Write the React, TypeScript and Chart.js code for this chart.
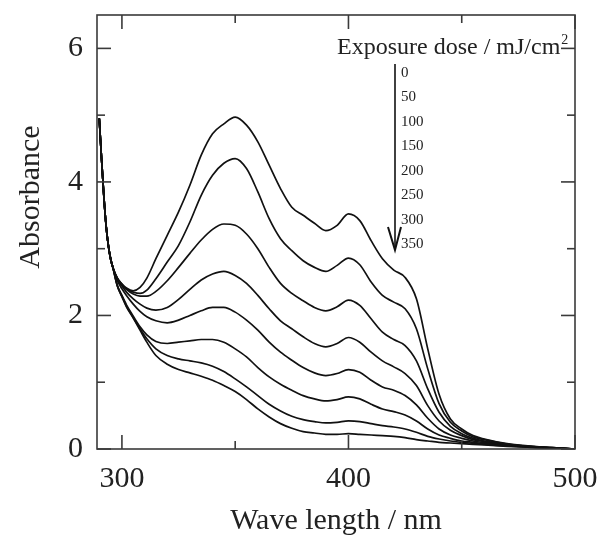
import React, { useEffect, useRef } from "react";
import { Chart, registerables } from "chart.js";
Chart.register(...registerables);

const WAVELENGTHS = [290, 291, 292, 293, 294, 295, 296, 298, 300, 302, 305, 308, 311, 315, 320, 325, 330, 335, 340, 345, 350, 355, 360, 365, 370, 375, 380, 385, 390, 395, 400, 405, 410, 415, 420, 425, 430, 435, 440, 445, 450, 455, 460, 470, 480, 490, 500];

const HEAD = [4.95, 4.35, 3.8, 3.35, 3.05, 2.85, 2.72];

const DOSE_0 = [...HEAD, 2.56, 2.47, 2.41, 2.37, 2.42, 2.56, 2.85, 3.2, 3.55, 3.95, 4.4, 4.72, 4.87, 4.97, 4.85, 4.6, 4.25, 3.9, 3.62, 3.5, 3.38, 3.27, 3.35, 3.52, 3.42, 3.12, 2.85, 2.68, 2.57, 2.25, 1.5, 0.82, 0.45, 0.3, 0.2, 0.15, 0.08, 0.045, 0.02, 0.0];
const DOSE_50 = [...HEAD, 2.56, 2.47, 2.4, 2.35, 2.33, 2.38, 2.55, 2.8, 3.05, 3.4, 3.8, 4.1, 4.28, 4.35, 4.2, 3.85, 3.45, 3.15, 2.97, 2.82, 2.72, 2.66, 2.75, 2.86, 2.76, 2.5, 2.3, 2.2, 2.1, 1.8, 1.2, 0.68, 0.4, 0.27, 0.18, 0.14, 0.075, 0.04, 0.02, 0.0];
const DOSE_100 = [...HEAD, 2.55, 2.46, 2.39, 2.32, 2.29, 2.29, 2.36, 2.52, 2.72, 2.93, 3.13, 3.29, 3.37, 3.35, 3.22, 3.0, 2.72, 2.48, 2.33, 2.22, 2.12, 2.07, 2.13, 2.23, 2.15, 1.95, 1.75, 1.64, 1.55, 1.32, 0.9, 0.55, 0.34, 0.23, 0.16, 0.12, 0.07, 0.04, 0.02, 0.0];
const DOSE_150 = [...HEAD, 2.54, 2.44, 2.35, 2.25, 2.17, 2.11, 2.08, 2.12, 2.24, 2.39, 2.53, 2.62, 2.66, 2.6, 2.48, 2.3, 2.1, 1.92, 1.8, 1.68, 1.58, 1.53, 1.58, 1.67, 1.6, 1.45, 1.32, 1.23, 1.13, 0.95, 0.65, 0.42, 0.28, 0.2, 0.14, 0.11, 0.065, 0.035, 0.018, 0.0];
const DOSE_200 = [...HEAD, 2.52, 2.4, 2.3, 2.17, 2.06, 1.98, 1.92, 1.89, 1.93, 2.0, 2.07, 2.12, 2.12, 2.05, 1.93, 1.78, 1.6, 1.45, 1.33, 1.22, 1.14, 1.1, 1.13, 1.19, 1.15, 1.03, 0.93, 0.88, 0.8, 0.66, 0.46, 0.3, 0.21, 0.16, 0.12, 0.095, 0.06, 0.033, 0.016, 0.0];
const DOSE_250 = [...HEAD, 2.45, 2.3, 2.16, 1.99, 1.83, 1.71, 1.61, 1.58, 1.6, 1.62, 1.64, 1.64, 1.6, 1.5, 1.38, 1.22, 1.08, 0.97, 0.88, 0.8, 0.75, 0.72, 0.74, 0.78, 0.75, 0.67, 0.6, 0.56, 0.51, 0.42, 0.3, 0.21, 0.16, 0.12, 0.1, 0.08, 0.05, 0.03, 0.015, 0.0];
const DOSE_300 = [...HEAD, 2.44, 2.29, 2.14, 1.97, 1.8, 1.65, 1.5, 1.4, 1.35, 1.32, 1.29, 1.24, 1.16, 1.05, 0.93, 0.8, 0.67, 0.57, 0.49, 0.44, 0.41, 0.39, 0.4, 0.42, 0.41, 0.38, 0.35, 0.33, 0.3, 0.25, 0.19, 0.15, 0.12, 0.1, 0.085, 0.07, 0.045, 0.027, 0.013, 0.0];
const DOSE_350 = [...HEAD, 2.44, 2.28, 2.13, 1.96, 1.78, 1.6, 1.4, 1.27, 1.19, 1.14, 1.09, 1.03, 0.95, 0.86, 0.74, 0.6, 0.48, 0.38, 0.31, 0.26, 0.24, 0.22, 0.22, 0.23, 0.22, 0.21, 0.2, 0.19, 0.17, 0.14, 0.12, 0.1, 0.09, 0.08, 0.07, 0.06, 0.04, 0.025, 0.012, 0.0];

const DOSE_LABELS = ["0", "50", "100", "150", "200", "250", "300", "350"];
const X_MAJOR = [300, 400, 500];
const X_MINOR = [350, 450];
const Y_MAJOR = [0, 2, 4, 6];
const Y_MINOR = [1, 3, 5];
const X_TITLE = "Wave length / nm";
const Y_TITLE = "Absorbance";
const LEGEND_TITLE = "Exposure dose / mJ/cm";
const LEGEND_SUP = "2";

const SERIF = "'Liberation Serif', 'Times New Roman', Times, serif";
const INK = "#222";
const FRAME = "#3a3a3a";

export default function App() {
  const ref = useRef<HTMLCanvasElement | null>(null);

  useEffect(() => {
    const series = [DOSE_0, DOSE_50, DOSE_100, DOSE_150, DOSE_200, DOSE_250, DOSE_300, DOSE_350];
    const datasets = series.map((s, i) => ({
      label: DOSE_LABELS[i],
      data: WAVELENGTHS.map((w, j) => ({ x: w, y: s[j] })),
      borderColor: "#111",
      borderWidth: 1.7,
      pointRadius: 0,
      fill: false,
      cubicInterpolationMode: "monotone" as const,
    }));

    const decor = {
      id: "decor",
      afterDraw(chart: any) {
        const ctx = chart.ctx as CanvasRenderingContext2D;
        const { left, right, top, bottom } = chart.chartArea;
        const xs = chart.scales.x;
        const ys = chart.scales.y;
        ctx.save();
        ctx.strokeStyle = FRAME;
        ctx.lineWidth = 1.6;
        ctx.strokeRect(left, top, right - left, bottom - top);
        const tick = (x1: number, y1: number, x2: number, y2: number) => {
          ctx.beginPath();
          ctx.moveTo(x1, y1);
          ctx.lineTo(x2, y2);
          ctx.stroke();
        };
        X_MAJOR.forEach((v) => {
          const p = xs.getPixelForValue(v);
          tick(p, bottom, p, bottom - 14);
          tick(p, top, p, top + 14);
        });
        X_MINOR.forEach((v) => {
          const p = xs.getPixelForValue(v);
          tick(p, bottom, p, bottom - 8);
          tick(p, top, p, top + 8);
        });
        Y_MAJOR.forEach((v) => {
          const p = ys.getPixelForValue(v);
          tick(left, p, left + 14, p);
          tick(right, p, right - 14, p);
        });
        Y_MINOR.forEach((v) => {
          const p = ys.getPixelForValue(v);
          tick(left, p, left + 8, p);
          tick(right, p, right - 8, p);
        });

        // axis titles
        ctx.fillStyle = INK;
        ctx.font = `30px ${SERIF}`;
        ctx.textAlign = "center";
        ctx.textBaseline = "alphabetic";
        ctx.fillText(X_TITLE, (left + right) / 2, 529);
        ctx.save();
        ctx.translate(39, 197);
        ctx.rotate(-Math.PI / 2);
        ctx.fillText(Y_TITLE, 0, 0);
        ctx.restore();

        // legend annotation
        ctx.textAlign = "left";
        ctx.font = `24px ${SERIF}`;
        ctx.fillText(LEGEND_TITLE, 337, 54);
        const w = ctx.measureText(LEGEND_TITLE).width;
        ctx.font = `14px ${SERIF}`;
        ctx.fillText(LEGEND_SUP, 337 + w + 1, 44);

        ctx.font = `15px ${SERIF}`;
        ctx.textBaseline = "middle";
        DOSE_LABELS.forEach((lab, i) => {
          ctx.fillText(lab, 401, 73 + i * 24.45);
        });

        ctx.strokeStyle = "#111";
        ctx.lineWidth = 1.6;
        tick(395, 64, 395, 250);
        ctx.lineWidth = 2;
        ctx.beginPath();
        ctx.moveTo(388, 227);
        ctx.lineTo(395, 250);
        ctx.lineTo(401, 227);
        ctx.stroke();
        ctx.restore();
      },
    };

    const chart = new Chart(ref.current as HTMLCanvasElement, {
      type: "line",
      data: { datasets },
      options: {
        animation: false,
        responsive: false,
        layout: { padding: { top: 15, right: 29, left: 0, bottom: 0 } },
        plugins: { legend: { display: false }, tooltip: { enabled: false } },
        scales: {
          x: {
            type: "linear",
            min: 289,
            max: 500,
            afterBuildTicks: (s: any) => {
              s.ticks = X_MAJOR.map((v) => ({ value: v }));
            },
            afterFit: (s: any) => {
              s.height = 88;
              s.paddingLeft = 0;
              s.paddingRight = 0;
              s.paddingTop = 0;
              s.paddingBottom = 0;
            },
            grid: { display: false, drawTicks: false },
            border: { display: false },
            ticks: {
              font: { family: SERIF, size: 30 },
              color: INK,
              padding: 12,
              maxRotation: 0,
              autoSkip: false,
            },
          },
          y: {
            type: "linear",
            min: 0,
            max: 6.5,
            afterBuildTicks: (s: any) => {
              s.ticks = Y_MAJOR.map((v) => ({ value: v }));
            },
            afterFit: (s: any) => {
              s.width = 97;
              s.paddingLeft = 0;
              s.paddingRight = 0;
              s.paddingTop = 0;
              s.paddingBottom = 0;
            },
            grid: { display: false, drawTicks: false },
            border: { display: false },
            ticks: {
              font: { family: SERIF, size: 30 },
              color: INK,
              padding: 14,
              autoSkip: false,
            },
          },
        },
      },
      plugins: [decor],
    } as any);

    return () => chart.destroy();
  }, []);

  return (
    <div style={{ position: "fixed", left: 0, top: 0, width: 604, height: 537, background: "#fff" }}>
      <canvas ref={ref} width={604} height={537} style={{ display: "block" }} />
    </div>
  );
}
